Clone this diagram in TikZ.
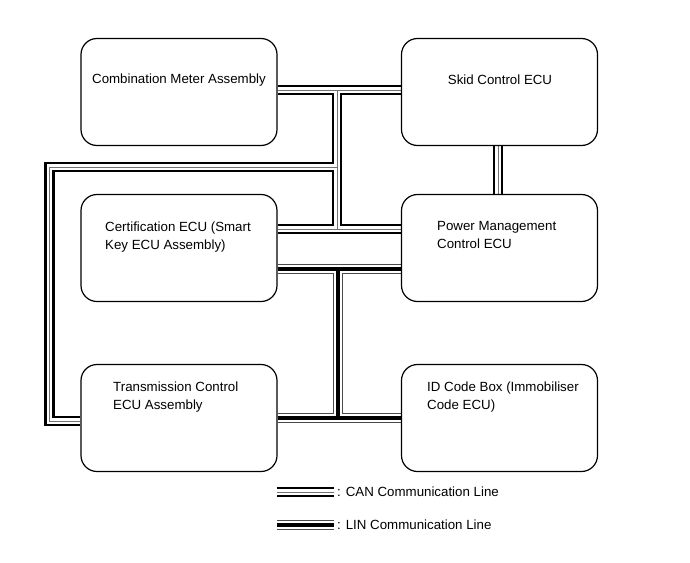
\documentclass[tikz,border=0pt]{standalone}
\usepackage{fontspec}
\setmainfont{Liberation Sans}
\usetikzlibrary{backgrounds}
\newcommand\canpaths{(cm.east |- j1) -- (skid.west |- j1)
  (j1) -- (j3)
  (cert.east |- j3) -- (pm.west |- j3)
  (j2) -- (lc1) -- (lc2) -- (tcm.west |- lc2)
  (skid.south -| kx) -- (pm.north -| kx)
  (cs) -- (ce)}
\newcommand\linpaths{(cert.east |- l1) -- (pm.west |- l1)
  (l1) -- (l2)
  (tcm.east |- l2) -- (id.west |- l2)
  (ls) -- (le)}
\begin{document}
\begin{tikzpicture}[x=1pt,y=-1pt,
  ecu/.style={draw=black, line width=1.2pt, rounded corners=16pt,
    minimum width=196pt, minimum height=107pt, inner sep=0pt},
  lbl/.style={font=\fontsize{13.3}{18}\selectfont, align=left, inner sep=0pt},
  canO/.style={line width=10.5pt, draw=black},
  canM/.style={line width=5.8pt, draw=white},
  canI/.style={line width=1pt, draw=black!55},
  linO/.style={line width=10.5pt, draw=black!70},
  linM/.style={line width=8.3pt, draw=white},
  linI/.style={line width=4.8pt, draw=black}]
\useasboundingbox (0,0) rectangle (690,562);
% boxes
\node[ecu] (cm)   at (179,92)   {};
\node[ecu] (skid) at (499.5,92) {};
\node[ecu] (cert) at (179,248)  {};
\node[ecu] (pm)   at (499.5,248){};
\node[ecu] (tcm)  at (179,418)  {};
\node[ecu] (id)   at (499.5,418){};
% texts
\node[lbl] (cmT) at (179,80) {Combination Meter Assembly};
\node[lbl] (skT) at (500,80) {Skid Control ECU};
\node[lbl, anchor=north west] (certT) at (105,221.5) {Certification ECU (Smart\\Key ECU Assembly)};
\node[lbl, anchor=north west] (pmT) at (437,221.5) {Power Management\\Control ECU};
\node[lbl, anchor=north west] (tcmT) at (113,381.5) {Transmission Control\\ECU Assembly};
\node[lbl, anchor=north west] (idT) at (427,381.5) {ID Code Box (Immobiliser\\Code ECU)};
% junction coordinates
\coordinate (j1) at (337,90);
\coordinate (j2) at (337,167);
\coordinate (j3) at (337,229);
\coordinate (lc1) at (49.5,167);
\coordinate (lc2) at (49.5,421);
\coordinate (kx) at (498,0);
\coordinate (l1) at (338,269);
\coordinate (l2) at (338,418);
% legend
\coordinate (cs) at (277,492);
\coordinate (ce) at (334,492);
\coordinate (ls) at (277,525);
\coordinate (le) at (334,525);
\node[lbl, anchor=west] (canT) at (337,492) {: CAN Communication Line};
\node[lbl, anchor=west] (linT) at (337,525) {: LIN Communication Line};
\begin{scope}[on background layer]
  \fill[white] (0,0) rectangle (690,562);
  \draw[canO] \canpaths;
  \draw[canM] \canpaths;
  \draw[canI] \canpaths;
  \draw[linO] \linpaths;
  \draw[linM] \linpaths;
  \draw[linI] \linpaths;
\end{scope}
\end{tikzpicture}
\end{document}
